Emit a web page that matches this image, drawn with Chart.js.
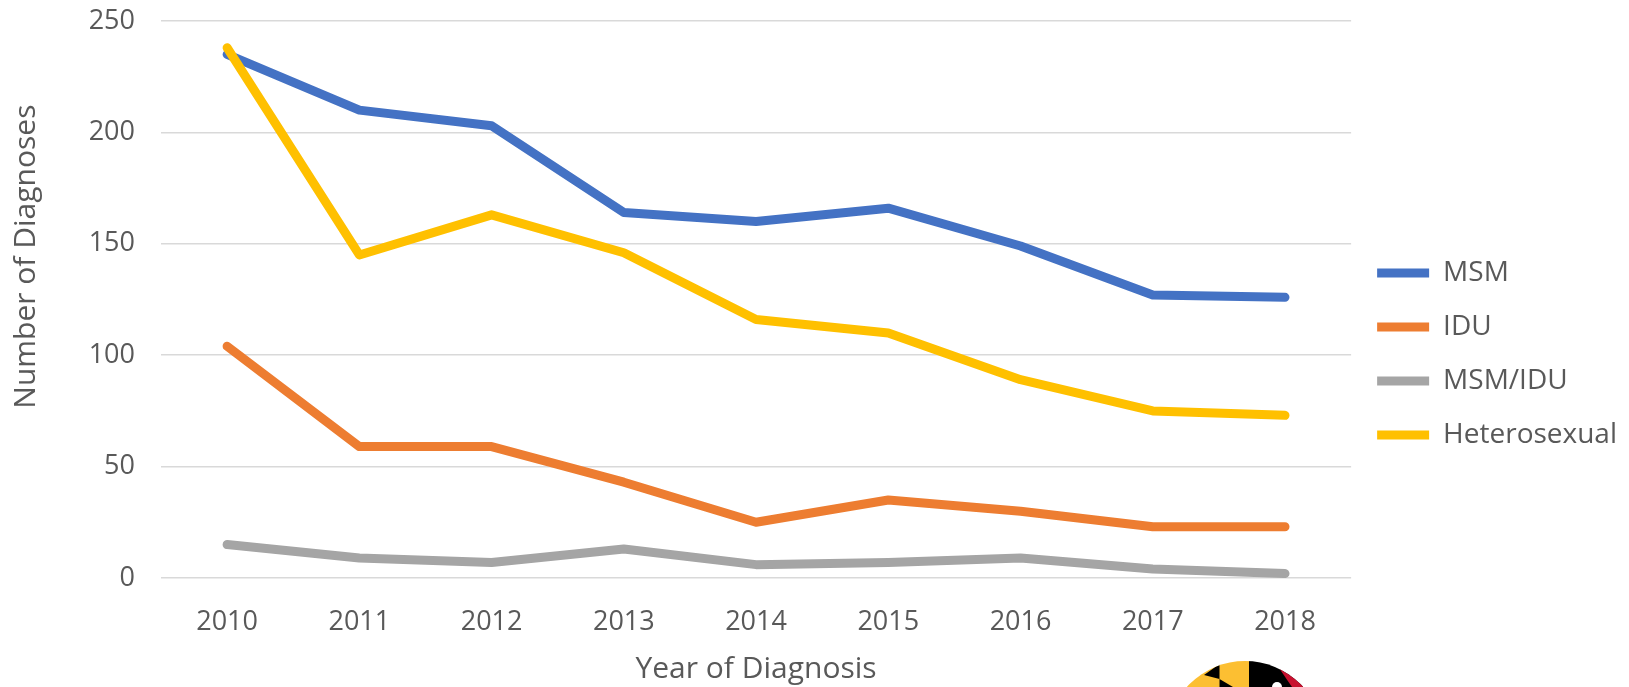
<!DOCTYPE html>
<html lang="en">
<head>
<meta charset="UTF-8">
<title>Diagnoses by Year and Transmission Category</title>
<script src="https://cdn.jsdelivr.net/npm/chart.js"></script>
<style>
    html, body {
        margin: 0;
        padding: 0;
        background: #ffffff;
    }
    #wrap {
        position: relative;
        width: 1629px;
        height: 687px;
        overflow: hidden;
    }
    #logo {
        position: absolute;
        left: 1160px;
        top: 655px;
    }
</style>
</head>
<body>
<div id="wrap">
    <canvas id="chart" width="1629" height="687"></canvas>
    <!-- state logo, only its top edge shows at the bottom of the slide -->
    <svg id="logo" width="170" height="32" viewBox="1160 655 170 32">
        <defs>
            <clipPath id="disc"><circle cx="1245" cy="739" r="78"/></clipPath>
        </defs>
        <g clip-path="url(#disc)">
            <rect x="1160" y="655" width="89" height="32" fill="#fcbf32"/>
            <rect x="1249" y="655" width="81" height="32" fill="#000000"/>
            <polygon points="1204,675 1219.5,664 1219.5,679" fill="#000000"/>
            <polygon points="1219.5,679 1233,687 1219.5,687" fill="#000000"/>
            <polygon points="1279,668 1330,668 1330,687 1292,687" fill="#c8102e"/>
            <circle cx="1277" cy="687" r="5" fill="#ffffff"/>
        </g>
    </svg>
</div>

<script>
    const years = ['2010', '2011', '2012', '2013', '2014', '2015', '2016', '2017', '2018'];

    const msm          = [235, 210, 203, 164, 160, 166, 149, 127, 126];
    const idu          = [104, 59, 59, 43, 25, 35, 30, 23, 23];
    const msmIdu       = [15, 9, 7, 13, 6, 7, 9, 4, 2];
    const heterosexual = [238, 145, 163, 146, 116, 110, 89, 75, 73];

    const yTicks = [0, 50, 100, 150, 200, 250];

    const textColor = '#595959';
    Chart.defaults.font.family = "'Open Sans', 'DejaVu Sans', sans-serif";
    Chart.defaults.color = textColor;

    function series(label, data, color, order) {
        return {
            label: label,
            data: data,
            borderColor: color,
            backgroundColor: color,
            borderWidth: 9,
            borderCapStyle: 'round',
            borderJoinStyle: 'round',
            pointRadius: 0,
            pointHoverRadius: 0,
            tension: 0,
            fill: false,
            order: order
        };
    }

    new Chart(document.getElementById('chart').getContext('2d'), {
        type: 'line',
        data: {
            labels: years,
            datasets: [
                series('MSM', msm, '#4472c4', 1),
                series('IDU', idu, '#ed7d31', 1),
                series('MSM/IDU', msmIdu, '#a5a5a5', 1),
                series('Heterosexual', heterosexual, '#ffc000', 0)
            ]
        },
        options: {
            responsive: false,
            animation: false,
            layout: {
                padding: { top: 21, left: 0, right: 2, bottom: 0 }
            },
            scales: {
                x: {
                    offset: true,
                    grid: { display: false, drawTicks: false },
                    border: { display: false },
                    ticks: {
                        padding: 28,
                        font: { size: 27 },
                        color: textColor,
                        maxRotation: 0
                    },
                    title: {
                        display: true,
                        text: 'Year of Diagnosis',
                        font: { size: 30 },
                        color: textColor,
                        padding: { top: 0, bottom: 0 }
                    },
                    afterFit: function (scale) {
                        scale.height = 109;
                    }
                },
                y: {
                    min: 0,
                    max: 250,
                    afterBuildTicks: function (scale) {
                        scale.ticks = yTicks.map(v => ({ value: v }));
                    },
                    grid: { color: '#d9d9d9', lineWidth: 1.5, drawTicks: false },
                    border: { display: false },
                    ticks: {
                        padding: 26,
                        font: { size: 27 },
                        color: textColor
                    },
                    title: {
                        display: true,
                        // leading spaces lift the title the way the original sits above centre
                        text: '           Number of Diagnoses',
                        font: { size: 30 },
                        color: textColor,
                        padding: { top: 8, bottom: 0 }
                    },
                    afterFit: function (scale) {
                        scale.width = 161;
                        scale.paddingTop = 0;
                        scale.paddingBottom = 0;
                    }
                }
            },
            plugins: {
                legend: {
                    position: 'right',
                    labels: {
                        usePointStyle: true,
                        pointStyle: 'line',
                        pointStyleWidth: 52,
                        padding: 26,
                        font: { size: 28 },
                        color: textColor,
                        sort: (a, b) => a.datasetIndex - b.datasetIndex
                    }
                },
                tooltip: { enabled: false }
            }
        }
    });
</script>
</body>
</html>
